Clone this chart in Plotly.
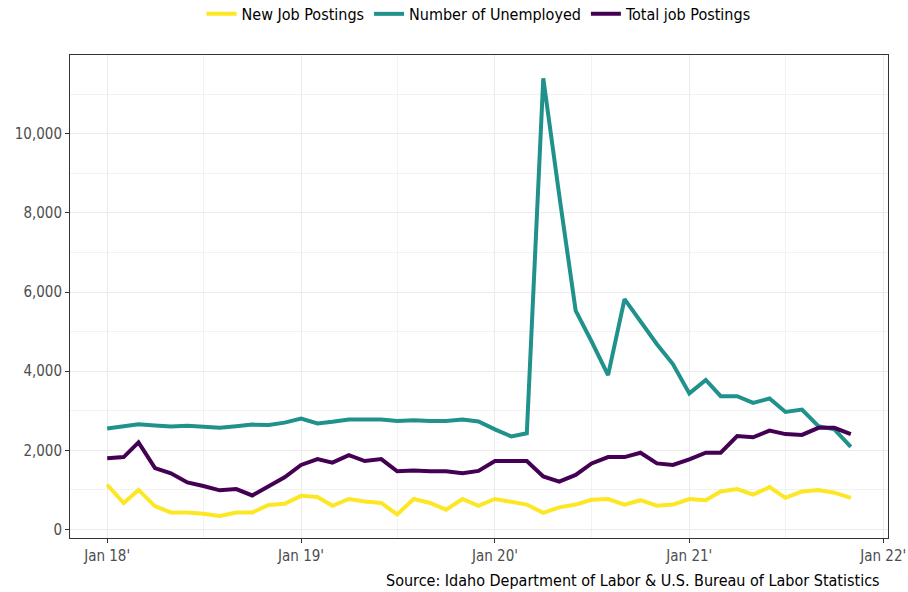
import pandas as pd
import plotly.graph_objects as go

dates = pd.date_range("2018-01-01", "2021-11-01", freq="MS")

new_job_postings = [
    1130, 670, 1000, 590, 430, 430, 400, 340, 430, 430, 620, 650,
    850, 820, 600, 770, 710, 670, 380, 770, 670, 500, 770, 600,
    770, 710, 630, 420, 560, 630, 750, 770, 630, 740, 600, 630,
    770, 740, 960, 1020, 880, 1070, 800, 960, 1000, 930, 800,
]
number_unemployed = [
    2550, 2610, 2660, 2630, 2600, 2620, 2600, 2570, 2610, 2650, 2640, 2700,
    2800, 2680, 2720, 2780, 2780, 2780, 2740, 2760, 2740, 2740, 2780, 2730,
    2530, 2350, 2430, 11400, 8450, 5530, 4750, 3900, 5820, 5250, 4680, 4180,
    3440, 3780, 3370, 3370, 3200, 3310, 2970, 3030, 2610, 2530, 2090,
]
total_job_postings = [
    1800, 1830, 2200, 1550, 1420, 1190, 1100, 990, 1020, 860, 1090, 1320,
    1630, 1780, 1690, 1880, 1730, 1780, 1470, 1490, 1470, 1470, 1420, 1480,
    1730, 1730, 1730, 1340, 1210, 1380, 1670, 1830, 1830, 1940, 1670, 1630,
    1770, 1940, 1940, 2360, 2330, 2500, 2410, 2390, 2570, 2570, 2410,
]

series_names = ["New Job Postings", "Number of Unemployed", "Total job Postings"]
series_values = [new_job_postings, number_unemployed, total_job_postings]
series_colors = ["#FDE725", "#21918C", "#440154"]

tick_dates = ["2018-01-01", "2019-01-01", "2020-01-01", "2021-01-01", "2022-01-01"]
tick_labels = ["Jan 18'", "Jan 19'", "Jan 20'", "Jan 21'", "Jan 22'"]
y_ticks = [0, 2000, 4000, 6000, 8000, 10000]
y_labels = ["0", "2,000", "4,000", "6,000", "8,000", "10,000"]

FONT = "Tahoma, 'DejaVu Sans Condensed', 'DejaVu Sans', sans-serif"

fig = go.Figure()
for name, vals, col in zip(series_names, series_values, series_colors):
    fig.add_trace(go.Scatter(
        x=dates, y=vals, mode="lines", name=name,
        line=dict(color=col, width=4),
    ))

fig.update_layout(
    width=908, height=592,
    paper_bgcolor="white", plot_bgcolor="white",
    margin=dict(l=70, r=20, t=55, b=54, autoexpand=False),
    font=dict(family=FONT, size=15, color="#000000"),
    legend=dict(
        orientation="h", x=0.5, xanchor="center", y=1.085, yanchor="middle",
        font=dict(size=16, color="#000000"), itemwidth=30,
        traceorder="normal",
    ),
    showlegend=True,
)

fig.update_xaxes(
    type="date",
    range=["2017-10-23", "2022-01-10"],
    tickvals=tick_dates, ticktext=tick_labels,
    ticks="outside", ticklen=4, tickcolor="#333333",
    tickfont=dict(size=15, color="#4D4D4D"),
    showgrid=True, gridcolor="#EBEBEB", gridwidth=1,
    minor=dict(tickvals=["2017-07-01", "2018-07-01", "2019-07-01", "2020-07-01", "2021-07-01"],
               showgrid=True, gridcolor="#F2F2F2", gridwidth=1, ticks=""),
    showline=True, linecolor="#333333", linewidth=1, mirror=True,
    zeroline=False, automargin=False,
)
fig.update_yaxes(
    range=[-215, 11990],
    tickvals=y_ticks, ticktext=y_labels,
    ticks="outside", ticklen=4, tickcolor="#333333",
    tickfont=dict(size=15, color="#4D4D4D"),
    showgrid=True, gridcolor="#EBEBEB", gridwidth=1,
    minor=dict(dtick=1000, tick0=0, showgrid=True, gridcolor="#F2F2F2", gridwidth=1, ticks=""),
    showline=True, linecolor="#333333", linewidth=1, mirror=True,
    zeroline=False, automargin=False,
)

fig.add_annotation(
    text="Source: Idaho Department of Labor & U.S. Bureau of Labor Statistics",
    xref="paper", yref="paper", x=1, y=-0.089, xanchor="right", yanchor="middle",
    xshift=-6, showarrow=False, font=dict(size=16, color="#000000"),
)

fig.write_html(
    "out.html",
    config={"displayModeBar": False},
    post_script="document.body.style.margin='0';",
)
